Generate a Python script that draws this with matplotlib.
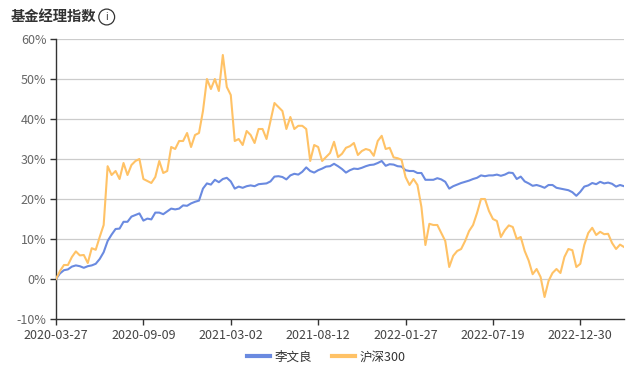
import matplotlib
matplotlib.use("Agg")
import matplotlib.pyplot as plt
import numpy as np

plt.rcParams['font.family'] = ['Noto Sans CJK SC', 'DejaVu Sans']

title = "基金经理指数"
series_names = ["李文良", "沪深300"]
tick_labels = ["2020-03-27", "2020-09-09", "2021-03-02", "2021-08-12",
               "2022-01-27", "2022-07-19", "2022-12-30"]
tick_index = [0, 22, 44, 66, 88, 110, 132]
y_ticks = [-10, 0, 10, 20, 30, 40, 50, 60]

manager = [
    0, 1.4, 2.2, 2.4, 3.1, 3.4, 3.2, 2.8, 3.2, 3.4, 3.8, 5.0, 6.7, 9.5, 11.1, 12.5, 12.6, 14.3,
    14.3, 15.6, 16.0, 16.4, 14.6, 15.1, 14.9, 16.6, 16.6, 16.2, 16.9, 17.6, 17.4, 17.6, 18.4, 18.3, 18.9, 19.3,
    19.6, 22.6, 23.9, 23.6, 24.8, 24.2, 25.0, 25.3, 24.4, 22.6, 23.1, 22.8, 23.2, 23.4, 23.2, 23.7, 23.8, 23.9,
    24.4, 25.6, 25.7, 25.5, 24.9, 25.9, 26.3, 26.1, 26.8, 27.9, 27.0, 26.6, 27.2, 27.6, 28.1, 28.2, 28.8, 28.2, 27.5,
    26.6, 27.2, 27.6, 27.5, 27.8, 28.2, 28.5, 28.6, 29.0, 29.5, 28.3, 28.7, 28.6, 28.2, 28.1, 27.2, 27.0, 27.0,
    26.5, 26.5, 24.8, 24.8, 24.8, 25.2, 24.9, 24.3, 22.6, 23.2, 23.6, 24.0, 24.3, 24.6, 25.0, 25.3, 25.9, 25.7,
    25.9, 25.9, 26.1, 25.8, 26.1, 26.6, 26.5, 25.0, 25.6, 24.4, 23.9, 23.3, 23.5, 23.2, 22.8, 23.5, 23.5, 22.8,
    22.6, 22.4, 22.2, 21.7, 20.8, 21.8, 23.1, 23.4, 24.0, 23.7, 24.3, 23.9, 24.1, 23.8, 23.1, 23.5, 23.2,
]

hs300 = [
    0, 2.0, 3.5, 3.5, 5.5, 6.9, 5.9, 6.0, 4.0, 7.7, 7.3, 10.5, 13.5, 28.2, 26.0, 27.0, 25.0, 29.0,
    26.0, 28.5, 29.5, 30.0, 25.0, 24.5, 24.0, 25.5, 29.5, 26.5, 27.0, 33.0, 32.5, 34.5, 34.5, 36.5, 33.0, 36.0,
    36.5, 42.0, 50.0, 47.5, 50.0, 47.0, 56.0, 48.0, 46.0, 34.5, 35.0, 33.5, 37.0, 36.0, 34.0, 37.5, 37.5, 35.0,
    39.5, 44.0, 43.0, 42.0, 37.5, 40.5, 37.5, 38.3, 38.3, 37.5, 29.5, 33.5, 33.0, 29.5, 30.5, 31.5, 34.3, 30.5, 31.3,
    32.8, 33.2, 34.0, 31.0, 32.0, 32.5, 32.2, 30.8, 34.5, 35.8, 32.5, 32.8, 30.4, 30.2, 29.8, 25.5, 23.5, 25.0,
    23.5, 18.0, 8.5, 13.8, 13.5, 13.5, 11.5, 9.5, 3.0, 5.8, 7.0, 7.5, 9.5, 12.0, 13.5, 16.5, 20.0, 20.0,
    17.0, 15.0, 14.5, 10.5, 12.2, 13.4, 13.0, 10.0, 10.5, 7.0, 4.6, 1.2, 2.5, 0.5, -4.5, -0.5, 1.5, 2.5,
    1.5, 5.5, 7.5, 7.2, 3.0, 3.8, 8.5, 11.5, 12.8, 11.0, 11.8, 11.2, 11.3, 9.0, 7.5, 8.6, 8.0,
]

W, H = 641, 373
fig = plt.figure(figsize=(W / 100, H / 100), dpi=100)
ax = fig.add_axes([56 / W, 1 - 319 / H, (624 - 56) / W, (319 - 39) / H])

x = np.arange(len(manager))
ax.plot(x, manager, color='#6a8ae0', lw=1.5, label=series_names[0], zorder=3)
ax.plot(x, hs300, color='#ffc266', lw=1.5, label=series_names[1], zorder=3)

ax.set_xlim(0, len(manager) - 1)
ax.set_ylim(-10, 60)
ax.set_yticks(y_ticks)
ax.set_yticklabels([f"{v}%" for v in y_ticks], color='#666666', fontsize=9)
ax.set_xticks(tick_index)
ax.set_xticklabels(tick_labels, color='#444444', fontsize=9)

for v in y_ticks[1:]:
    ax.axhline(v, color='#cccccc', lw=0.9, zorder=1)

for s in ['top', 'right']:
    ax.spines[s].set_visible(False)
for s in ['left', 'bottom']:
    ax.spines[s].set_color('#333333')
    ax.spines[s].set_linewidth(1.0)
ax.tick_params(axis='both', length=4, width=1.0, color='#333333')
ax.tick_params(axis='y', pad=3)
ax.tick_params(axis='x', pad=3)

fig.text(11 / W, 1 - 17 / H, title, fontsize=10.3, fontweight='bold',
         color='#333333', va='center', ha='left')
fig.text(106.7 / W, 1 - 17 / H, "i", fontsize=7, color='#333333',
         va='center', ha='center',
         bbox=dict(boxstyle='circle,pad=0.3', fc='none', ec='#333333', lw=0.9))

leg = fig.legend(loc='center', bbox_to_anchor=(0.509, 1 - 357 / H), ncol=2,
                 frameon=False, fontsize=9, handlelength=1.8, handletextpad=0.4,
                 columnspacing=1.6)
for t in leg.get_texts():
    t.set_color('#333333')
for l in leg.get_lines():
    l.set_linewidth(3)

fig.savefig("out.png", dpi=100)
